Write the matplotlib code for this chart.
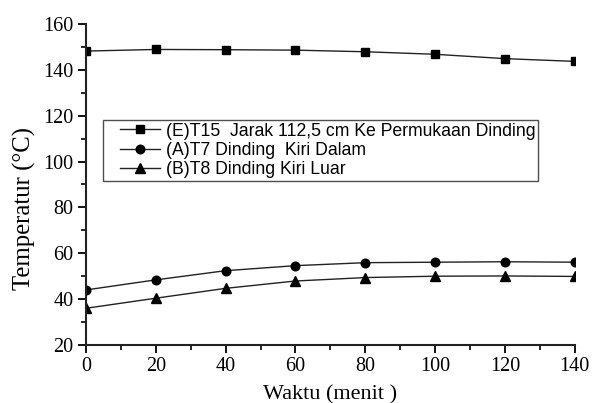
import matplotlib
matplotlib.use("Agg")
import matplotlib.pyplot as plt
from matplotlib.ticker import MultipleLocator
from matplotlib.legend_handler import HandlerLine2D

waktu = [0, 20, 40, 60, 80, 100, 120, 140]
t15 = [148.2, 148.9, 148.8, 148.6, 147.9, 146.8, 144.9, 143.7]
t7 = [44.0, 48.4, 52.4, 54.6, 55.9, 56.1, 56.3, 56.1]
t8 = [36.0, 40.4, 44.7, 47.9, 49.4, 50.0, 50.1, 49.9]
labels = ["(E)T15  Jarak 112,5 cm Ke Permukaan Dinding",
          "(A)T7 Dinding  Kiri Dalam",
          "(B)T8 Dinding Kiri Luar"]


class OffsetLineHandler(HandlerLine2D):
    def __init__(self, offset, **kw):
        super().__init__(**kw)
        self.offset = offset

    def get_xdata(self, legend, xdescent, ydescent, width, height, fontsize):
        x0 = -xdescent + self.offset
        x1 = -xdescent + width
        return [x0, x1], [0.5 * (x0 + x1)]


fig = plt.figure(figsize=(5.95, 4.03), dpi=100)
ax = fig.add_axes([0.1445, 0.144, 0.8215, 0.7964])

lc = "#222222"
l1, = ax.plot(waktu, t15, marker="s", color=lc, mfc="black", mec="black", ms=5.5, lw=1, label=labels[0])
l2, = ax.plot(waktu, t7, marker="o", color=lc, mfc="black", mec="black", ms=6.2, lw=1, label=labels[1])
l3, = ax.plot(waktu, t8, marker="^", color=lc, mfc="black", mec="black", ms=6.8, lw=1, label=labels[2])

ax.set_xlim(0, 140)
ax.set_ylim(20, 160)
ax.xaxis.set_major_locator(MultipleLocator(20))
ax.xaxis.set_minor_locator(MultipleLocator(10))
ax.yaxis.set_major_locator(MultipleLocator(20))
ax.yaxis.set_minor_locator(MultipleLocator(10))
for s in ["top", "right"]:
    ax.spines[s].set_visible(False)
for s in ["left", "bottom"]:
    ax.spines[s].set_linewidth(1.5)
    ax.spines[s].set_color("#222222")
ax.tick_params(which="major", direction="out", length=6, width=1.3, labelsize=14.5, pad=3)
ax.tick_params(which="minor", direction="out", length=3.5, width=1.2)
for lab in ax.get_xticklabels() + ax.get_yticklabels():
    lab.set_family("Liberation Serif")

ax.set_xlabel("Waktu (menit )", family="Liberation Serif", fontsize=16, labelpad=6)
ax.set_ylabel("Temperatur (°C)", family="Liberation Serif", fontsize=17.8)
ax.yaxis.set_label_coords(-0.103, 0.424)

hm = {h: OffsetLineHandler(10.5) for h in (l1, l2, l3)}
leg = ax.legend(loc="upper left", bbox_to_anchor=(0.035, 0.701), frameon=True, fancybox=False,
                prop={"family": "Liberation Sans", "size": 12.7}, handlelength=3.1,
                borderpad=0.15, labelspacing=0.12, handletextpad=0.3, borderaxespad=0,
                handler_map=hm)
leg.get_frame().set_edgecolor("#222222")
leg.get_frame().set_linewidth(1.0)

fig.savefig("out.png", dpi=100)
